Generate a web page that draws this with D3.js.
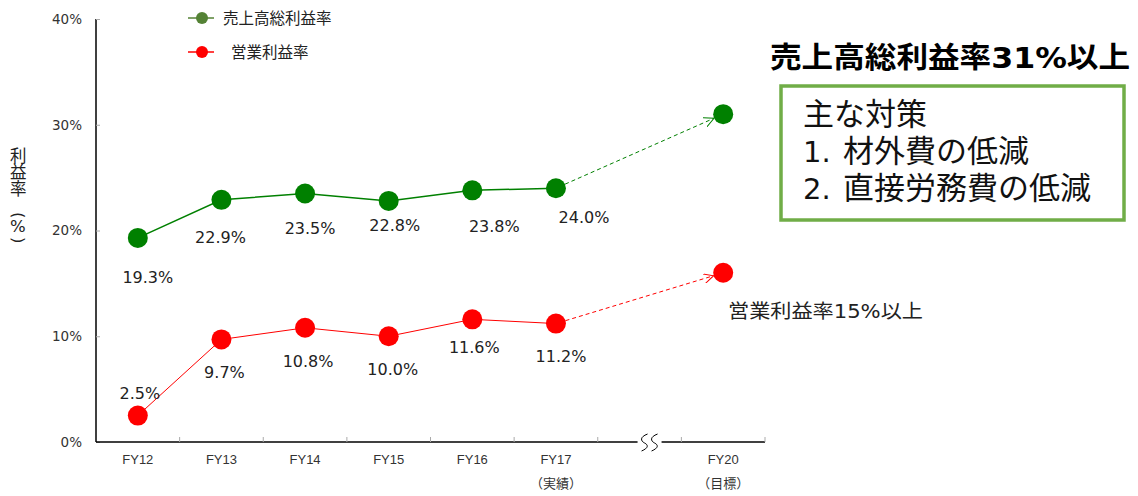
<!DOCTYPE html>
<html>
<head>
<meta charset="utf-8">
<script src="https://cdn.jsdelivr.net/npm/d3@7"></script>
<style>
  body { margin: 0; background: #fff; }
  svg { display: block; font-family: "DejaVu Sans", "Noto Sans CJK JP", sans-serif; }
</style>
</head>
<body>
<div id="chart"></div>
<script>
// categories; "gap" is the broken slot between FY17 and FY20
const years = ["FY12", "FY13", "FY14", "FY15", "FY16", "FY17", "gap", "FY20"];
const subLabels = { FY17: "（実績）", FY20: "（目標）" };
const actualYears = ["FY12", "FY13", "FY14", "FY15", "FY16", "FY17"];
const grossMargin = [19.3, 22.9, 23.5, 22.8, 23.8, 24.0];
const opMargin = [2.5, 9.7, 10.8, 10.0, 11.6, 11.2];
const grossTarget = 31;
const opTarget = 16;
const yTicks = [0, 10, 20, 30, 40];
const seriesNames = ["売上高総利益率", "営業利益率"];

const width = 1138, height = 496;
const svg = d3.select("#chart").append("svg")
  .attr("width", width).attr("height", height);

const x = d3.scaleBand().domain(years).range([96, 765]);
const y = d3.scaleLinear().domain([0, 40]).range([442, 19]);
const cx = d => x(d) + x.bandwidth() / 2;

// arrow heads
const defs = svg.append("defs");
[["arrG", "#008000"], ["arrR", "#ff0000"]].forEach(([id, c]) => {
  defs.append("marker").attr("id", id)
    .attr("viewBox", "0 0 10 10").attr("refX", 10).attr("refY", 5)
    .attr("markerWidth", 10).attr("markerHeight", 10).attr("orient", "auto")
    .attr("markerUnits", "userSpaceOnUse")
    .append("path").attr("d", "M0,0 L10,5 L0,10")
    .attr("fill", "none").attr("stroke", c).attr("stroke-width", 1);
});

// y axis
const yAxis = svg.append("g").attr("transform", "translate(96,0)")
  .call(d3.axisLeft(y).tickValues(yTicks).tickFormat(d => d + "%").tickSize(-4).tickPadding(14));
yAxis.select(".domain").attr("stroke", "#000").attr("stroke-width", 1.5).attr("d", "M0,19V442");
yAxis.selectAll(".tick line").attr("stroke", "#aaa");
yAxis.selectAll(".tick text").attr("font-size", 13.5).attr("fill", "#333")
  .attr("font-family", "DejaVu Sans");

// x axis with break
const xAxis = svg.append("g").attr("transform", "translate(0,442)")
  .call(d3.axisBottom(x).tickSize(0).tickFormat(d => d === "gap" ? "" : d));
xAxis.select(".domain").attr("stroke", "#000").attr("stroke-width", 1.5).attr("d", "M96,0H765");
xAxis.selectAll(".tick text").attr("font-size", 13).attr("fill", "#333")
  .attr("y", 22).attr("dy", 0)
  .each(function (d) {
    if (subLabels[d]) {
      d3.select(this.parentNode).append("text")
        .attr("y", 46).attr("fill", "#333").attr("font-size", 13)
        .attr("font-family", "Noto Sans CJK JP")
        .text(subLabels[d]);
    }
  });
const bounds = years.map(d => x(d)).concat([x("FY20") + x.bandwidth()]).slice(1);
xAxis.selectAll(".btick").data(bounds).enter().append("line")
  .attr("x1", d => d).attr("x2", d => d).attr("y1", 0).attr("y2", -5)
  .attr("stroke", "#aaa");
const bx = cx("gap") + 10;
xAxis.append("rect").attr("x", bx - 12).attr("y", -3).attr("width", 24).attr("height", 6).attr("fill", "#fff");
[-5, 5].forEach(o => {
  xAxis.append("path")
    .attr("d", `M${bx + o + 3},-8 C${bx + o - 5},-5 ${bx + o - 4},-1 ${bx + o},1 S${bx + o + 4},6 ${bx + o - 3},9`)
    .attr("fill", "none").attr("stroke", "#000").attr("stroke-width", 1);
});

// y title: text runs downward, CJK and % glyphs turned back upright, brackets left sideways
svg.append("text").attr("transform", "translate(10,161.5) rotate(90)")
  .attr("rotate", "-90 -90 -90 0 -90 0")
  .attr("dx", "0 0 0 1 13.1 -10.2")
  .attr("dy", "0 0 0 -3 3 -3")
  .attr("font-size", 16.5).attr("fill", "#222")
  .text("利益率(%)");

function drawSeries(vals, target, color, lw, arrowId, offsets) {
  const line = d3.line().x((d, i) => cx(actualYears[i])).y(d => y(d));
  svg.append("path").datum(vals).attr("d", line)
    .attr("fill", "none").attr("stroke", color).attr("stroke-width", lw);
  // dashed projection to target
  const x0 = cx("FY17"), y0 = y(vals[vals.length - 1]);
  const x1 = cx("FY20"), y1 = y(target);
  const len = Math.hypot(x1 - x0, y1 - y0);
  const ux = (x1 - x0) / len, uy = (y1 - y0) / len;
  svg.append("line")
    .attr("x1", x0 + ux * 10).attr("y1", y0 + uy * 10)
    .attr("x2", x1 - ux * 10).attr("y2", y1 - uy * 10)
    .attr("stroke", color).attr("stroke-width", 1).attr("stroke-dasharray", "4,3")
    .attr("marker-end", `url(#${arrowId})`);
  svg.append("g").selectAll("circle").data(vals.concat([target])).enter().append("circle")
    .attr("cx", (d, i) => cx(i < vals.length ? actualYears[i] : "FY20"))
    .attr("cy", d => y(d)).attr("r", 10).attr("fill", color);
  svg.append("g").selectAll("text").data(vals).enter().append("text")
    .attr("x", (d, i) => cx(actualYears[i]) + offsets[i][0])
    .attr("y", (d, i) => y(d) + offsets[i][1])
    .attr("text-anchor", "middle").attr("font-size", 16).attr("fill", "#222")
    .text(d => d.toFixed(1) + "%");
}

drawSeries(grossMargin, grossTarget, "#008000", 1.5, "arrG",
  [[10, 45], [-1, 43], [5, 41], [6, 30], [22, 42], [28, 35]]);
drawSeries(opMargin, opTarget, "#ff0000", 1, "arrR",
  [[2, -17], [3, 39], [3, 39], [4, 39], [2, 34], [5, 38]]);

// legend
const legColors = ["#548235", "#ff0000"];
const leg = svg.append("g");
seriesNames.forEach((name, i) => {
  const ly = 18 + i * 34;
  leg.append("line").attr("x1", 188).attr("x2", 214).attr("y1", ly).attr("y2", ly)
    .attr("stroke", legColors[i]).attr("stroke-width", 1.5);
  leg.append("circle").attr("cx", 202).attr("cy", ly).attr("r", 6).attr("fill", legColors[i]);
  leg.append("text").attr("x", i === 0 ? 223 : 231).attr("y", ly + 6)
    .attr("font-size", 15.5).attr("fill", "#222").attr("font-family", "Noto Sans CJK JP")
    .text(name);
});

// target annotations
svg.append("text").attr("x", 770).attr("y", 68)
  .attr("font-size", 29).attr("font-weight", "bold").attr("fill", "#000")
  .attr("textLength", 360).attr("lengthAdjust", "spacingAndGlyphs")
  .text("売上高総利益率31%以上");

svg.append("rect").attr("x", 781).attr("y", 86).attr("width", 343).attr("height", 134)
  .attr("fill", "#fff").attr("stroke", "#70ad47").attr("stroke-width", 3.5);
const boxLines = [["", "主な対策"], ["1.", "材外費の低減"], ["2.", "直接労務費の低減"]];
boxLines.forEach(([num, txt], i) => {
  const by = 125 + i * 37;
  const t = svg.append("text").attr("y", by).attr("fill", "#111")
    .attr("font-size", 29).attr("font-family", "Noto Sans CJK JP");
  if (num) t.append("tspan").attr("x", 803).attr("font-family", "DejaVu Sans").text(num);
  t.append("tspan").attr("x", num ? 843 : 803).attr("font-size", 31).text(txt);
});

svg.append("text").attr("x", 728).attr("y", 318)
  .attr("font-size", 19).attr("fill", "#222")
  .attr("textLength", 195).attr("lengthAdjust", "spacingAndGlyphs")
  .text("営業利益率15%以上");
</script>
</body>
</html>
